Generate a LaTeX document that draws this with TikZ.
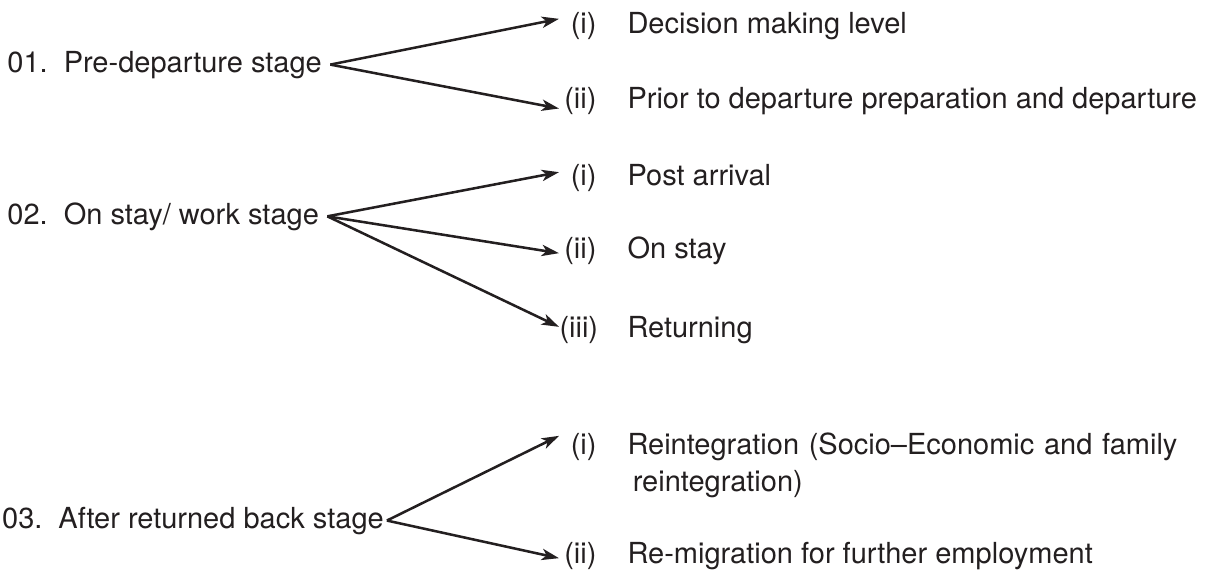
\documentclass[tikz,border=0pt]{standalone}
\usepackage{fontspec}
\setmainfont{TeX Gyre Heros}
\usetikzlibrary{arrows.meta}
\definecolor{inkgray}{HTML}{231F20}
\tikzset{every picture/.style={line width=0.75pt}}
\tikzset{
  stage/.style={anchor=base west, inner ysep=0pt, inner xsep=6pt, text=inkgray},
  numeral/.style={anchor=base east, inner sep=0pt, text width=27.75pt, align=right, text=inkgray},
  item/.style={anchor=base west, inner sep=0pt, align=left, text=inkgray},
  branch/.style={draw=inkgray, line width=1.9pt, -{Stealth[length=13pt,width=8.5pt,inset=3.5pt]}}
}

\begin{document}
\begin{tikzpicture}[x=0.75pt,y=0.75pt,yscale=-1,xscale=1,font=\fontsize{21.75}{27.75}\selectfont]
        \useasboundingbox (0,0) rectangle (1211,572);

        % Text Node
        \node (s1) at (-1,72) [stage] {01.\hspace{0.55em}Pre-departure stage};
        % Text Node
        \node (n1a) at (597,33) [numeral] {(i)};
        \node at (627,33) [item] {Decision making level};
        % Text Node
        \node (n1b) at (597,108) [numeral] {(ii)};
        \node at (627,108) [item] {Prior to departure preparation and departure};

        % Text Node
        \node (s2) at (-1,224) [stage] {02.\hspace{0.55em}On stay/ work stage};
        % Text Node
        \node (n2a) at (597,185) [numeral] {(i)};
        \node at (627,185) [item] {Post arrival};
        % Text Node
        \node (n2b) at (597,258) [numeral] {(ii)};
        \node at (627,258) [item] {On stay};
        % Text Node
        \node (n2c) at (597,337) [numeral] {(iii)};
        \node at (627,337) [item] {Returning};

        % Text Node
        \node (s3) at (-1,528) [stage, inner xsep=2pt] {03.\hspace{0.55em}After returned back stage};
        % Text Node
        \node (n3a) at (597,454) [numeral] {(i)};
        \node at (627,454) [item, text width=430pt] {Reintegration (Socio--Economic and family\\\hspace*{4pt}reintegration)};
        % Text Node
        \node (n3b) at (597,563) [numeral] {(ii)};
        \node at (627,563) [item] {Re-migration for further employment};

        %Straight Lines
        \draw [branch] (s1.east) -- ([yshift=-5pt]n1a.west);
        \draw [branch] (s1.east) -- ([yshift=6pt]n1b.west);
        %Straight Lines
        \draw [branch] (s2.east) -- ([yshift=-4pt]n2a.west);
        \draw [branch] (s2.east) -- ([yshift=2pt]n2b.west);
        \draw [branch] (s2.east) -- ([yshift=-2pt]n2c.west);
        %Straight Lines
        \draw [branch] (s3.east) -- ([yshift=-8pt]n3a.west);
        \draw [branch] (s3.east) -- ([yshift=2pt]n3b.west);
\end{tikzpicture}
\end{document}
